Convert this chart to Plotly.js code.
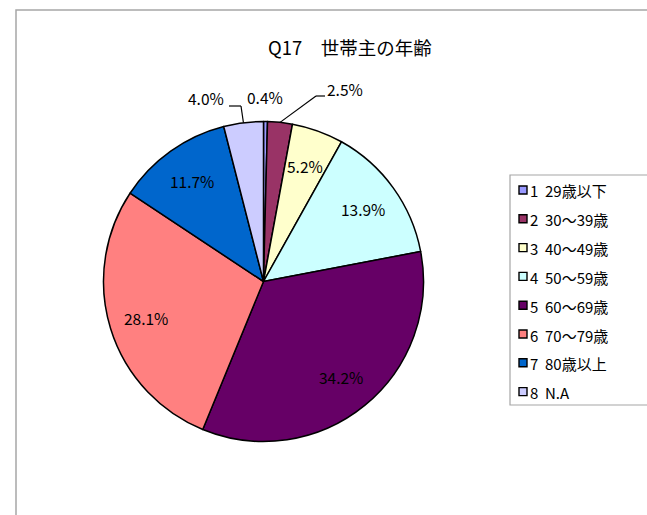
<!DOCTYPE html>
<html>
<head>
<meta charset="utf-8">
<script src="https://cdn.plot.ly/plotly-3.0.1.min.js"></script>
<style>html,body{margin:0;padding:0;background:#fff;}#chart{width:647px;height:515px;}</style>
</head>
<body>
<div id="chart"></div>
<script>
// ---- data ----
const categories = ["1　29歳以下", "2　30～39歳", "3　40～49歳", "4　50～59歳", "5　60～69歳", "6　70～79歳", "7　80歳以上", "8　N.A"];
const values = [0.4, 2.5, 5.2, 13.9, 34.2, 28.1, 11.7, 4.0];
const colors = ["#9999FF", "#993366", "#FFFFCC", "#CCFFFF", "#660066", "#FF8080", "#0066CC", "#CCCCFF"];
const titleText = "Q17　世帯主の年齢";

// ---- layout constants (pixels) ----
const W = 647, H = 515;
const CX = 263.5, CY = 281.5, R = 160;
const FONT = "'Noto Sans CJK JP', 'Noto Sans', sans-serif";
const px = x => x / W;
const py = y => 1 - y / H;

// label placement style: inside labels at fraction of radius, outside ones with elbows
const insideFrac = 0.77;
const outsideLabels = {
  0: {tx: 265, ty: 97, line: null},
  1: {tx: 345, ty: 89, line: [[316, 96], [325, 96]]},
  7: {tx: 206, ty: 98, line: [[241, 106], [229, 106]]}
};

const total = values.reduce((a, b) => a + b, 0);
const annotations = [];
const shapes = [];

// outer chart-area border
shapes.push({type: 'rect', xref: 'paper', yref: 'paper', x0: px(16), x1: px(700), y0: py(10), y1: py(560),
  line: {color: '#A6A6A6', width: 1.5}, fillcolor: 'rgba(0,0,0,0)'});

let cum = 0;
values.forEach((v, i) => {
  const mid = (cum + v / 2) / total * 2 * Math.PI;
  cum += v;
  const txt = v.toFixed(1) + '%';
  if (outsideLabels[i]) {
    const o = outsideLabels[i];
    annotations.push({xref: 'paper', yref: 'paper', x: px(o.tx), y: py(o.ty), text: txt, showarrow: false,
      xanchor: 'center', yanchor: 'middle', font: {family: FONT, size: 15.5, color: '#000'}});
    if (o.line) {
      let x0 = CX + R * Math.sin(mid), y0 = CY - R * Math.cos(mid);
      o.line.forEach(p => {
        shapes.push({type: 'line', xref: 'paper', yref: 'paper', x0: px(x0), y0: py(y0), x1: px(p[0]), y1: py(p[1]),
          line: {color: '#000', width: 1.2}});
        x0 = p[0]; y0 = p[1];
      });
    }
  } else {
    const lx = CX + R * insideFrac * Math.sin(mid), ly = CY - R * insideFrac * Math.cos(mid);
    annotations.push({xref: 'paper', yref: 'paper', x: px(lx), y: py(ly), text: txt, showarrow: false,
      xanchor: 'center', yanchor: 'middle', font: {family: FONT, size: 15.5, color: '#000'}});
  }
});

// custom legend
const LX0 = 510, LY0 = 175, LX1 = 700, LY1 = 405;
shapes.push({type: 'rect', xref: 'paper', yref: 'paper', x0: px(LX0), x1: px(LX1), y0: py(LY0), y1: py(LY1),
  line: {color: '#A6A6A6', width: 1.2}, fillcolor: '#fff'});
const rowY0 = 191, rowStep = 28.8;
categories.forEach((c, i) => {
  const yc = rowY0 + i * rowStep;
  shapes.push({type: 'rect', xref: 'paper', yref: 'paper', x0: px(519), x1: px(527), y0: py(yc - 5), y1: py(yc + 3),
    line: {color: '#000', width: 1.4}, fillcolor: colors[i]});
  const parts = c.split('　');
  annotations.push({xref: 'paper', yref: 'paper', x: px(528), y: py(yc), text: parts[0], showarrow: false,
    xanchor: 'left', yanchor: 'middle', font: {family: FONT, size: 15, color: '#000'}});
  annotations.push({xref: 'paper', yref: 'paper', x: px(543), y: py(yc), text: parts[1], showarrow: false,
    xanchor: 'left', yanchor: 'middle', font: {family: FONT, size: 15, color: '#000'}});
});

// title
annotations.push({xref: 'paper', yref: 'paper', x: px(350), y: py(47), text: titleText, showarrow: false,
  xanchor: 'center', yanchor: 'middle', font: {family: FONT, size: 18.5, color: '#000'}});

const trace = {
  type: 'pie',
  labels: categories,
  values: values,
  sort: false,
  direction: 'clockwise',
  rotation: 0,
  textposition: 'none',
  hoverinfo: 'label+percent',
  marker: {colors: colors, line: {color: '#000', width: 1.5}},
  domain: {x: [px(CX - R), px(CX + R)], y: [py(CY + R), py(CY - R)]}
};

const layout = {
  width: W, height: H,
  margin: {l: 0, r: 0, t: 0, b: 0},
  paper_bgcolor: '#fff',
  showlegend: false,
  shapes: shapes,
  annotations: annotations,
  font: {family: FONT}
};

Plotly.newPlot('chart', [trace], layout, {displayModeBar: false, staticPlot: true});
</script>
</body>
</html>
